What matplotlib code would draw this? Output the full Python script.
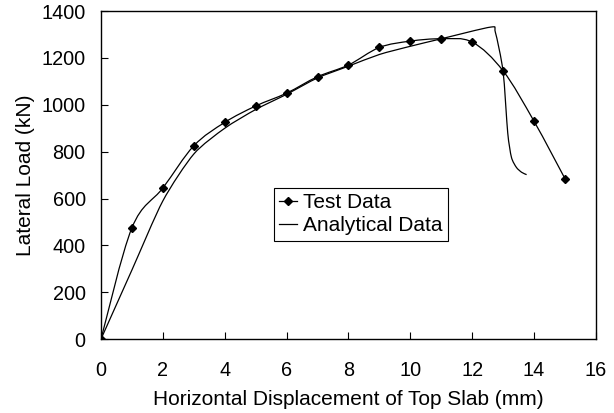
import matplotlib
matplotlib.use("Agg")
import matplotlib.pyplot as plt
from matplotlib.path import Path
from matplotlib.patches import PathPatch
from matplotlib.lines import Line2D
import numpy as np

plt.rcParams['font.family'] = ['Liberation Sans', 'DejaVu Sans']

test_x = [0, 1, 2, 3, 4, 5, 6, 7, 8, 9, 10, 11, 12, 13, 14, 15]
test_y = [0, 475, 645, 825, 925, 995, 1050, 1120, 1170, 1245, 1272, 1282, 1268, 1145, 930, 685]

ana_x = [0, 1, 2, 3, 4, 5, 6, 7, 8, 9, 10, 11, 12.6, 12.75, 13.0, 13.15, 13.27, 13.43, 13.6, 13.76]
ana_y = [0, 295, 590, 790, 900, 980, 1045, 1115, 1165, 1215, 1250, 1282, 1332, 1310, 1142, 880, 776, 733, 712, 702]


def smooth_path(xs, ys, tension=6.0):
    p = np.column_stack([xs, ys]).astype(float)
    n = len(p)
    verts = [p[0]]
    codes = [Path.MOVETO]
    for i in range(n - 1):
        p0 = p[i - 1] if i > 0 else p[i]
        p1 = p[i]
        p2 = p[i + 1]
        p3 = p[i + 2] if i + 2 < n else p[i + 1]
        c1 = p1 + (p2 - p0) / tension
        c2 = p2 - (p3 - p1) / tension
        verts += [c1, c2, p2]
        codes += [Path.CURVE4] * 3
    return Path(verts, codes)


fig = plt.figure(figsize=(6.14, 4.13), dpi=100)
ax = fig.add_axes([0.1645, 0.179, 0.806, 0.794])

ax.add_patch(PathPatch(smooth_path(test_x, test_y), fill=False, edgecolor='black', lw=0.9))
ax.plot(test_x, test_y, linestyle='none', marker='D', ms=4.5, color='black')
ax.add_patch(PathPatch(smooth_path(ana_x, ana_y, tension=8.0), fill=False, edgecolor='black', lw=0.9))

ax.set_xlim(0, 16)
ax.set_ylim(0, 1400)
ax.set_xticks(np.arange(0, 17, 2))
ax.set_yticks(np.arange(0, 1401, 200))
ax.tick_params(direction='in', length=5, width=0.8, labelsize=14.3)
ax.tick_params(axis='x', pad=16)
ax.tick_params(axis='y', pad=11)
for s in ax.spines.values():
    s.set_linewidth(1.0)
    s.set_color('black')

ax.set_xlabel('Horizontal Displacement of Top Slab (mm)', fontsize=15, labelpad=7)
ax.set_ylabel('Lateral Load (kN)', fontsize=15, labelpad=5)

handles = [Line2D([], [], color='black', lw=0.9, marker='D', ms=4),
           Line2D([], [], color='black', lw=0.9)]
leg = ax.legend(handles, ['Test Data', 'Analytical Data'], loc='upper left',
                bbox_to_anchor=(0.3495, 0.4604), fontsize=15, frameon=True,
                fancybox=False, edgecolor='black', framealpha=1,
                handlelength=0.85, handletextpad=0.3, borderpad=0.25,
                labelspacing=0.2, borderaxespad=0)
leg.get_frame().set_linewidth(0.8)

fig.savefig('out.png', dpi=100)
